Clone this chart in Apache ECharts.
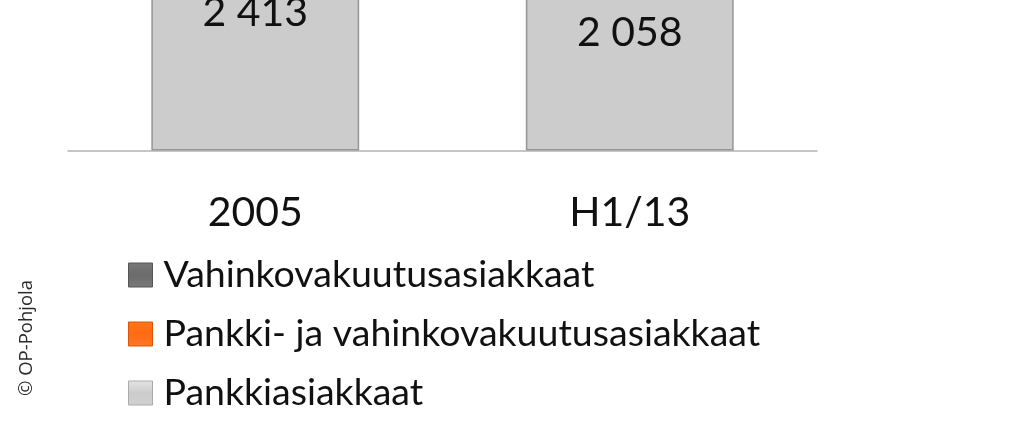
<!DOCTYPE html>
<html>
<head>
<meta charset="utf-8">
<script src="https://cdn.jsdelivr.net/npm/echarts@6/dist/echarts.min.js"></script>
<style>
  html, body { margin: 0; padding: 0; background: #fff; overflow: hidden; }
  /* the picture shows only the lower part of a taller chart */
  #chart { width: 1024px; height: 850px; margin-top: -380px; }
</style>
</head>
<body>
<div id="chart"></div>
<script>
// categories and values (thousands of customers)
const categories = ['2005', 'H1/13'];
const seriesNames = ['Vahinkovakuutusasiakkaat', 'Pankki- ja vahinkovakuutusasiakkaat', 'Pankkiasiakkaat'];
// only the bottom segment is visible in the picture; upper ones run off the top
const pankki = [2413, 2058];
const pankkiJaVahinko = [350, 1100];
const vahinko = [370, 500];

const colors = {
  vahinko: '#6b6b6b',
  both: '#ff6a13',
  pankki: '#cccccc'
};
const font = 'Lato';
const off = 380; // hidden strip above the window

const chart = echarts.init(document.getElementById('chart'));

function fmt(v) {
  return String(v).replace(/\B(?=(\d{3})+(?!\d))/g, ' ');
}

function bevel(c, dark) {
  return new echarts.graphic.LinearGradient(0, 0, 0, 1, [
    { offset: 0, color: echarts.color.lift(c, -0.12) },
    { offset: 0.5, color: c },
    { offset: 1, color: echarts.color.lift(c, dark) }
  ]);
}

function barSeries(name, data, color) {
  return {
    name: name,
    type: 'bar',
    stack: 'total',
    data: data,
    barWidth: '55.5%',
    itemStyle: { color: color, borderColor: '#959595', borderWidth: 1.5 },
    label: {
      show: true,
      position: 'inside',
      fontFamily: font,
      fontSize: 41,
      color: '#111',
      formatter: p => fmt(p.value)
    }
  };
}

chart.setOption({
  animation: false,
  backgroundColor: '#fff',
  grid: { left: 68, right: 207, top: 72.5, bottom: 319.5 },
  xAxis: {
    type: 'category',
    data: categories,
    axisLine: { lineStyle: { color: '#b4b4b4', width: 1.5 } },
    axisTick: { show: false },
    axisLabel: { fontFamily: font, fontSize: 41, color: '#111', margin: 42 }
  },
  yAxis: {
    type: 'value',
    min: 0,
    max: 4000,
    show: false,
    splitLine: { show: false }
  },
  legend: {
    orient: 'vertical',
    left: 123,
    top: 251 + off,
    itemWidth: 24,
    itemHeight: 24,
    itemGap: 21,
    icon: 'rect',
    textStyle: { fontFamily: font, fontSize: 37.5, color: '#111', padding: [0, 0, 0, 6] },
    data: [
      { name: seriesNames[0], itemStyle: { color: bevel(colors.vahinko, 0.1), borderColor: '#555', borderWidth: 1 } },
      { name: seriesNames[1], itemStyle: { color: bevel(colors.both, 0.1), borderColor: '#d9560c', borderWidth: 1 } },
      { name: seriesNames[2], itemStyle: { color: bevel(colors.pankki, 0.1), borderColor: '#aaa', borderWidth: 1 } }
    ]
  },
  graphic: [{
    type: 'text',
    x: 27,
    y: 338 + off,
    rotation: Math.PI / 2,
    style: {
      text: '© OP-Pohjola',
      fontFamily: 'Open Sans',
      fontSize: 18.5,
      fill: '#2a2a2a',
      textAlign: 'center',
      textVerticalAlign: 'middle'
    }
  }],
  series: [
    barSeries(seriesNames[2], pankki, colors.pankki),
    barSeries(seriesNames[1], pankkiJaVahinko, colors.both),
    barSeries(seriesNames[0], vahinko, colors.vahinko)
  ]
});
</script>
</body>
</html>
